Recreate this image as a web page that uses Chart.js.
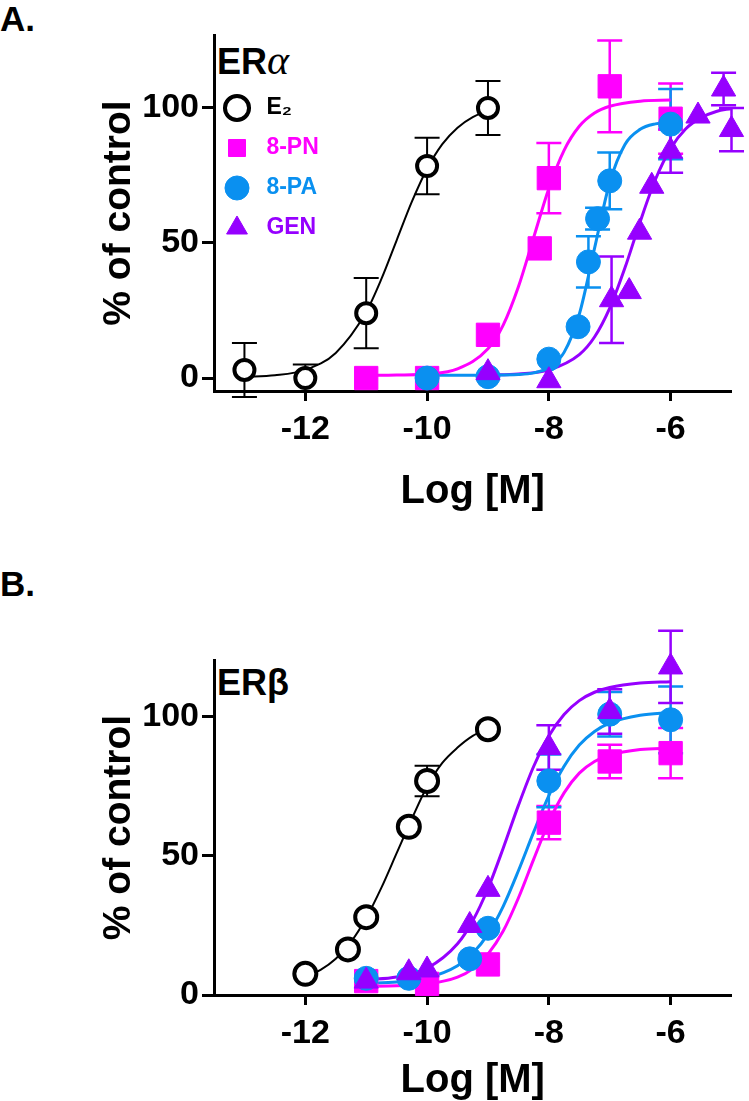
<!DOCTYPE html>
<html>
<head>
<meta charset="utf-8">
<script src="https://cdn.jsdelivr.net/npm/chart.js@4.4.1/dist/chart.umd.min.js"></script>
<style>
  body { margin: 0; background: #fff; width: 749px; height: 1101px; position: relative; overflow: hidden;
         font-family: 'Liberation Sans', Arial, Helvetica, sans-serif; }
  canvas { position: absolute; left: 0; }
  .lbl { position: absolute; font-weight: bold; line-height: 1; color: #000; white-space: nowrap; }
  .greek { font-family: 'Liberation Serif', 'DejaVu Serif', serif; font-weight: normal; font-style: italic; font-size: 42px; }
</style>
</head>
<body>
<div class="lbl" style="left:0px;top:1px;font-size:35px">A.</div>
<div class="lbl" style="left:217px;top:39px;font-size:36px">ER<span class="greek">α</span></div>
<canvas id="chartA" width="749" height="545" style="top:0px"></canvas>

<div class="lbl" style="left:0px;top:566px;font-size:35px">B.</div>
<div class="lbl" style="left:217px;top:665px;font-size:36px">ERβ</div>
<canvas id="chartB" width="749" height="551" style="top:550px"></canvas>

<script>
// --- axis ticks (log molar concentration / % of control)
const X_TICKS = [-12, -10, -8, -6];
const Y_TICKS = [0, 50, 100];

// --- Panel A: ER alpha, measured points (x = log[M], y = % of control, err = SEM)
const aE2X = [-13, -12, -11, -10, -9];
const aE2Y = [3, 0, 24, 78.5, 100];
const aE2Err = [10, 5, 13, 10.5, 10];

const aPNX = [-11, -10, -9, -8.15, -8, -7, -6];
const aPNY = [0, 0, 16, 48, 74, 108, 96];
const aPNErr = [0, 0, 0, 0, 13, 17, 13];

const aPAX = [-10, -9, -8, -7.52, -7.35, -7.2, -7.0, -6];
const aPAY = [0, 0.5, 7, 19, 43, 59, 73, 94];
const aPAErr = [0, 0, 0, 0, 9.5, 4, 10.5, 13];

const aGENX = [-9, -8, -6.97, -6.68, -6.51, -6.31, -6.0, -5.55, -5.13, -5.0];
const aGENY = [2, -1, 29, 32, 54, 71, 84, 97, 107, 92];
const aGENErr = [0, 0, 16, 0, 0, 0, 8, 0, 6, 8];

// --- Panel A: fitted curves
const aE2CurveX = [-13, -12.5, -12, -11.5, -11, -10.75, -10.5, -10.25, -10, -9.75, -9.5, -9.25, -9];
const aE2CurveY = [0.5, 1, 3, 9.3, 24.5, 36.7, 51, 65.3, 77.5, 86.6, 92.7, 96.6, 99];

const aPNCurveX = [-11, -10.5, -10, -9.5, -9, -8.75, -8.5, -8.25, -8, -7.75, -7.5, -7.25, -7, -6.5, -6];
const aPNCurveY = [1, 1.1, 1.5, 3.4, 10.8, 19.6, 33.8, 52, 70.2, 84.3, 93.2, 98.1, 100.6, 102.5, 102.9];

const aPACurveX = [-10, -9.5, -9, -8.5, -8.25, -8, -7.75, -7.5, -7.25, -7, -6.75, -6.5, -6.25, -6];
const aPACurveY = [1, 1, 1.1, 1.3, 1.9, 3.9, 9.5, 23.6, 48, 72.4, 86.5, 92.1, 94.1, 94.7];

const aGENCurveX = [-9, -8.5, -8, -7.5, -7.25, -7, -6.75, -6.5, -6.25, -6, -5.75, -5.5, -5.25, -5];
const aGENCurveY = [1.1, 1.5, 3.0, 8.7, 15.2, 25.9, 40.8, 57.9, 73.5, 85, 92.3, 96.4, 98.7, 99.8];

// --- Panel B: ER beta, measured points
const bE2X = [-12, -11.3, -11, -10.3, -10, -9];
const bE2Y = [7.6, 16.4, 28, 60.5, 77, 95.6];
const bE2Err = [0, 0, 0, 0, 5.5, 0];

const bPNX = [-11, -10, -9, -8, -7, -6];
const bPNY = [5, 4, 11, 62, 84, 87];
const bPNErr = [0, 0, 0, 6, 6, 9];

const bPAX = [-11, -10.3, -9.3, -9, -8, -7, -6];
const bPAY = [6, 6, 13, 24, 77, 101, 99];
const bPAErr = [0, 0, 0, 0, 9.5, 8, 12];

const bGENX = [-11, -10.3, -10, -9.3, -9, -8, -7, -6];
const bGENY = [5, 8, 9, 25, 38, 89, 102, 118];
const bGENErr = [0, 0, 0, 0, 0, 8, 8, 13];

// --- Panel B: fitted curves
const bE2CurveX = [-12, -11.75, -11.5, -11.25, -11, -10.75, -10.5, -10.25, -10, -9.75, -9.5, -9.25, -9];
const bE2CurveY = [6.5, 9, 13, 19.1, 27.7, 38.6, 51, 63.4, 75, 83.5, 89, 93.2, 95.8];

const bCurveX = [-11, -10.5, -10, -9.5, -9.25, -9, -8.75, -8.5, -8.25, -8, -7.75, -7.5, -7.25, -7, -6.5, -6];
const bPNCurveY = [3.1, 3.3, 3.9, 6.4, 9.4, 14.7, 23, 34.9, 48.8, 62.2, 72.7, 79.8, 84, 86.3, 88.3, 88.8];
const bPACurveY = [4.2, 4.7, 6.1, 10.5, 15, 21.9, 31.9, 44.7, 58.6, 71.7, 82.3, 89.9, 94.8, 97.8, 100.6, 101.6];
const bGENCurveY = [5.5, 6.5, 9.6, 18.4, 26.7, 38.3, 52.8, 68.2, 82.2, 93.2, 100.9, 105.9, 108.9, 110.6, 112.2, 112.7];

const FONT = "'Liberation Sans', Arial, Helvetica, sans-serif";
const BLACK = '#000000';
const MAGENTA = '#ff00ff';
const BLUE = '#0a90f0';
const PURPLE = '#9600ff';

Chart.defaults.font.family = FONT;
Chart.defaults.color = BLACK;

// error bars drawn under the markers, through the chart's own scales
const errorBars = {
  id: 'errorBars',
  beforeDatasetsDraw(chart) {
    const { ctx, scales: { x, y } } = chart;
    chart.data.datasets.forEach(ds => {
      if (!ds.errors) return;
      ctx.save();
      ctx.strokeStyle = ds.borderColor;
      ctx.lineWidth = ds.errWidth || 2;
      ds.data.forEach((p, i) => {
        const e = ds.errors[i];
        if (!e) return;
        const px = x.getPixelForValue(p.x);
        const top = y.getPixelForValue(p.y + e);
        const bot = y.getPixelForValue(p.y - e);
        const cap = 12.5;
        ctx.beginPath();
        ctx.moveTo(px, top); ctx.lineTo(px, bot);
        ctx.moveTo(px - cap, top); ctx.lineTo(px + cap, top);
        ctx.moveTo(px - cap, bot); ctx.lineTo(px + cap, bot);
        ctx.stroke();
      });
      ctx.restore();
    });
  }
};

// the in-chart legend box starts at the canvas top; move it to where the figure has it
const legendShift = {
  id: 'legendShift',
  afterLayout(chart, args, opts) {
    const lg = chart.legend;
    if (!lg || !lg.options.display) return;
    lg.left += opts.dx || 0; lg.right += opts.dx || 0;
    lg.top += opts.dy || 0; lg.bottom += opts.dy || 0;
  }
};

function pointSet(label, xs, ys, errs, look) {
  return Object.assign({
    label: label,
    data: xs.map((v, i) => ({ x: v, y: ys[i] })),
    errors: errs,
    showLine: false,
    clip: false
  }, look);
}

function curveSet(xs, ys, color, width) {
  return {
    label: '',
    isCurve: true,
    data: xs.map((v, i) => ({ x: v, y: ys[i] })),
    showLine: true,
    pointRadius: 0,
    borderColor: color,
    borderWidth: width,
    cubicInterpolationMode: 'monotone',
    fill: false,
    clip: false,
    order: 10
  };
}

function e2Look(r) {
  return { pointStyle: 'circle', pointRadius: r, pointBackgroundColor: '#ffffff', pointBorderColor: BLACK,
           pointBorderWidth: 4, borderColor: BLACK, backgroundColor: '#ffffff', legendColor: BLACK, order: 4, errWidth: 2 };
}
function solidLook(style, r, color, order) {
  return { pointStyle: style, pointRadius: r, pointBackgroundColor: color, pointBorderColor: color,
           pointBorderWidth: 1, borderColor: color, backgroundColor: color, legendColor: color, order: order, errWidth: 2.5 };
}

function axisOptions(cfg) {
  const tickFont = { family: FONT, size: 34, weight: 'bold' };
  const titleFont = { family: FONT, size: 40, weight: 'bold', lineHeight: 1 };
  return {
    x: {
      type: 'linear', min: -13.5, max: -5,
      afterBuildTicks: s => { s.ticks = X_TICKS.map(v => ({ value: v })); },
      afterFit: s => { s.height = cfg.xHeight; },
      grid: { drawOnChartArea: false, drawTicks: true, tickLength: 10, tickWidth: 3, tickColor: BLACK },
      border: { display: true, color: BLACK, width: 3 },
      ticks: { color: BLACK, font: tickFont, padding: 8, maxRotation: 0, autoSkip: false },
      title: { display: true, text: 'Log [M]', color: BLACK, font: titleFont, padding: { top: 0, bottom: cfg.xTitlePad } }
    },
    y: {
      type: 'linear', min: cfg.yMin, max: cfg.yMax,
      afterBuildTicks: s => { s.ticks = Y_TICKS.map(v => ({ value: v })); },
      afterFit: s => { s.width = 214; },
      grid: { drawOnChartArea: false, drawTicks: true, tickLength: 12, tickWidth: 3, tickColor: BLACK },
      border: { display: true, color: BLACK, width: 3 },
      ticks: { color: BLACK, font: tickFont, padding: 3, autoSkip: false },
      title: { display: true, text: '% of control', color: BLACK,
               font: { family: FONT, size: 39, weight: 'bold', lineHeight: 1 }, padding: { top: 100, bottom: 0 } }
    }
  };
}

function legendOptions(show) {
  return {
    display: show,
    position: 'chartArea',
    align: 'start',
    labels: {
      usePointStyle: true,
      boxWidth: 23,
      boxHeight: 17,
      padding: 17,
      font: { family: FONT, size: 23, weight: 'bold' },
      filter: (item, data) => !data.datasets[item.datasetIndex].isCurve,
      sort: (a, b) => a.datasetIndex - b.datasetIndex,
      generateLabels: chart => {
        const items = Chart.defaults.plugins.legend.labels.generateLabels(chart);
        return items.map(it => Object.assign(it, {
          text: ' ' + it.text,
          fontColor: chart.data.datasets[it.datasetIndex].legendColor
        }));
      }
    }
  };
}

// Panel A
new Chart(document.getElementById('chartA'), {
  type: 'scatter',
  data: {
    datasets: [
      pointSet('E₂', aE2X, aE2Y, aE2Err, e2Look(10)),
      pointSet('8-PN', aPNX, aPNY, aPNErr, solidLook('rect', 16.5, MAGENTA, 3)),
      pointSet('8-PA', aPAX, aPAY, aPAErr, solidLook('circle', 12, BLUE, 2)),
      pointSet('GEN', aGENX, aGENY, aGENErr, solidLook('triangle', 14, PURPLE, 1)),
      curveSet(aE2CurveX, aE2CurveY, BLACK, 2),
      curveSet(aPNCurveX, aPNCurveY, MAGENTA, 3),
      curveSet(aPACurveX, aPACurveY, BLUE, 3),
      curveSet(aGENCurveX, aGENCurveY, PURPLE, 3)
    ]
  },
  options: {
    responsive: false,
    animation: false,
    events: [],
    layout: { padding: { left: 0, top: 35, right: 16, bottom: 0 } },
    scales: axisOptions({ yMin: -4.8, yMax: 127, xHeight: 154, xTitlePad: 33 }),
    plugins: {
      legend: legendOptions(true),
      legendShift: { dx: -5.5, dy: 79.5 },
      tooltip: { enabled: false }
    }
  },
  plugins: [errorBars, legendShift]
});

// Panel B
new Chart(document.getElementById('chartB'), {
  type: 'scatter',
  data: {
    datasets: [
      pointSet('E₂', bE2X, bE2Y, bE2Err, e2Look(11)),
      pointSet('8-PN', bPNX, bPNY, bPNErr, solidLook('rect', 16.5, MAGENTA, 3)),
      pointSet('8-PA', bPAX, bPAY, bPAErr, solidLook('circle', 12, BLUE, 2)),
      pointSet('GEN', bGENX, bGENY, bGENErr, solidLook('triangle', 14, PURPLE, 1)),
      curveSet(bE2CurveX, bE2CurveY, BLACK, 2),
      curveSet(bCurveX, bPNCurveY, MAGENTA, 3),
      curveSet(bCurveX, bPACurveY, BLUE, 3),
      curveSet(bCurveX, bGENCurveY, PURPLE, 3)
    ]
  },
  options: {
    responsive: false,
    animation: false,
    events: [],
    layout: { padding: { left: 0, top: 110, right: 16, bottom: 0 } },
    scales: axisOptions({ yMin: 0, yMax: 120.5, xHeight: 106, xTitlePad: 0 }),
    plugins: {
      legend: legendOptions(false),
      tooltip: { enabled: false }
    }
  },
  plugins: [errorBars, legendShift]
});
</script>
</body>
</html>
